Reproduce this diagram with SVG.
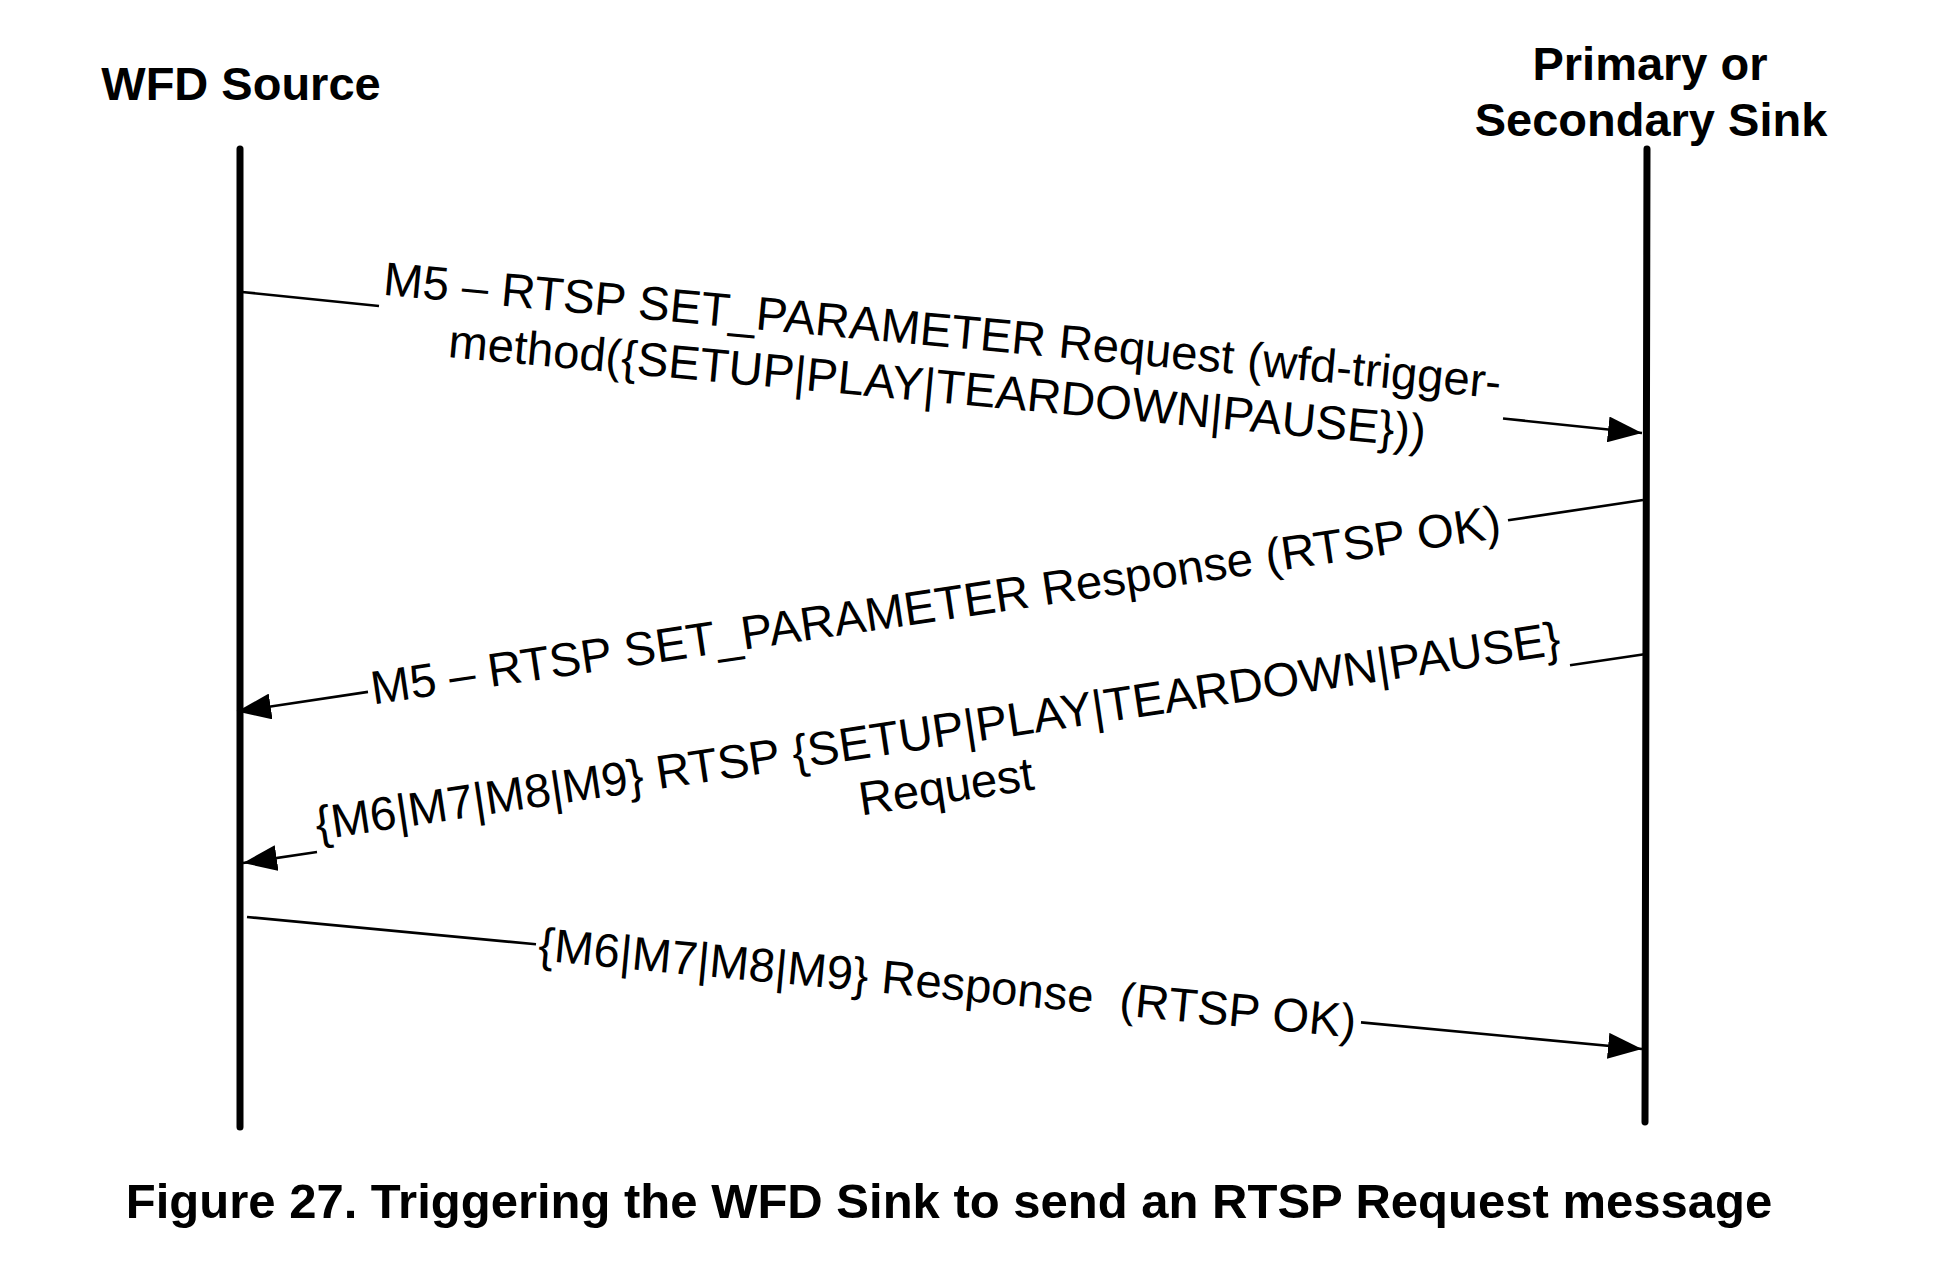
<svg xmlns="http://www.w3.org/2000/svg" width="1938" height="1268" viewBox="0 0 1938 1268">
  <style>
    .hdr { font-family: "Liberation Sans", Arial, sans-serif; font-weight: bold; font-size: 47px; fill: #000; text-anchor: middle; }
    .ttl { font-family: "Liberation Sans", Arial, sans-serif; font-weight: bold; font-size: 49px; fill: #000; text-anchor: middle; }
    .lbl { font-family: "Liberation Sans", Arial, sans-serif; font-size: 47.3px; fill: #000; text-anchor: middle; }
    .life { stroke: #000; stroke-width: 7; stroke-linecap: round; fill: none; }
    .msg { stroke: #000; stroke-width: 2.6; fill: none; }
  </style>
  <defs>
    <marker id="arr" markerUnits="userSpaceOnUse" markerWidth="34" markerHeight="26" viewBox="0 0 34 26" refX="34" refY="13" orient="auto">
      <path d="M0,0 L34,13 L0,26 z" fill="#000"/>
    </marker>
  </defs>
  <rect width="1938" height="1268" fill="#fff"/>

  <g id="wfd-source">
    <text class="hdr" x="241" y="100">WFD Source</text>
    <line class="life" x1="240" y1="149" x2="240" y2="1127"/>
  </g>

  <g id="sink">
    <text class="hdr" x="1650" y="80">Primary or</text>
    <text class="hdr" x="1651" y="136">Secondary Sink</text>
    <line class="life" x1="1647" y1="149" x2="1645" y2="1122"/>
  </g>

  <g id="connectors">
    <g id="m5-request">
      <path class="msg" d="M242,292 L379,306"/>
      <path class="msg" d="M1503,418.5 L1642,433" marker-end="url(#arr)"/>
      <g transform="translate(941,346.5) rotate(5.3)">
        <text class="lbl" x="0" y="0">M5 – RTSP SET_PARAMETER Request (wfd-trigger-</text>
        <text class="lbl" x="0" y="56">method({SETUP|PLAY|TEARDOWN|PAUSE}))</text>
      </g>
    </g>
    <g id="m5-response">
      <path class="msg" d="M1643,500 L1508,520.3"/>
      <path class="msg" d="M368,691.9 L237,711.5" marker-end="url(#arr)"/>
      <g transform="translate(938,621) rotate(-8.4)">
        <text class="lbl" x="0" y="0">M5 – RTSP SET_PARAMETER Response (RTSP OK)</text>
      </g>
    </g>
    <g id="m6-request">
      <path class="msg" d="M1646,654 L1570,665.3"/>
      <path class="msg" d="M317,852 L243,863" marker-end="url(#arr)"/>
      <g transform="translate(940,747) rotate(-8.5)">
        <text class="lbl" x="0" y="0">{M6|M7|M8|M9} RTSP {SETUP|PLAY|TEARDOWN|PAUSE}</text>
        <text class="lbl" x="0" y="56">Request</text>
      </g>
    </g>
    <g id="m6-response">
      <path class="msg" d="M247,917 L536,944.3"/>
      <path class="msg" d="M1361,1022.4 L1642,1049" marker-end="url(#arr)"/>
      <g transform="translate(946,999) rotate(5.4)">
        <text class="lbl" x="0" y="0" xml:space="preserve">{M6|M7|M8|M9} Response  (RTSP OK)</text>
      </g>
    </g>
  </g>

  <g id="caption">
    <text class="ttl" x="949" y="1218">Figure 27. Triggering the WFD Sink to send an RTSP Request message</text>
  </g>
</svg>
